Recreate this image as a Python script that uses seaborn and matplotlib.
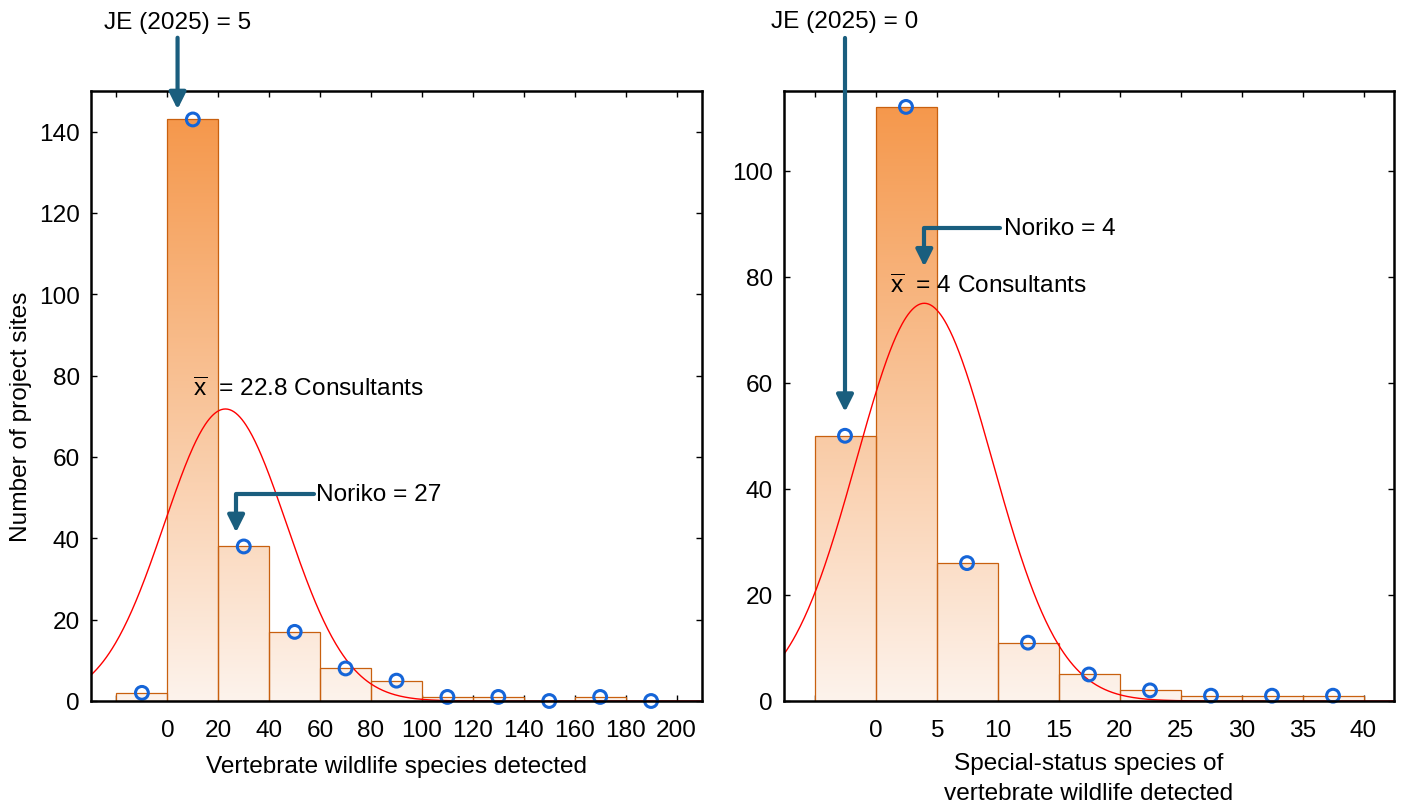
import numpy as np
import pandas as pd
import matplotlib
matplotlib.use("Agg")
import matplotlib.pyplot as plt
import seaborn as sns

# ---------------- data ----------------
left_edges = [-20, 0, 20, 40, 60, 80, 100, 120, 140, 160, 180, 200]
left_counts = [2, 143, 38, 17, 8, 5, 1, 1, 0, 1, 0]
left_mean = 22.8
left_sd = 24.0
left_xticklabels = ["0", "20", "40", "60", "80", "100", "120", "140", "160", "180", "200"]

right_edges = [-5, 0, 5, 10, 15, 20, 25, 30, 35, 40]
right_counts = [50, 112, 26, 11, 5, 2, 1, 1, 1]
right_mean = 4.0
right_sd = 5.56
right_xticklabels = ["0", "5", "10", "15", "20", "25", "30", "35", "40"]

left_je = 5
right_je = 0
left_noriko = 27
right_noriko = 4

# ---------------- style ----------------
sns.set_theme(style="ticks")
plt.rcParams["font.family"] = ["Liberation Sans", "DejaVu Sans"]
plt.rcParams["mathtext.fontset"] = "custom"
plt.rcParams["mathtext.sf"] = "Liberation Sans"
plt.rcParams["mathtext.rm"] = "Liberation Sans"
plt.rcParams["text.color"] = "black"
plt.rcParams["axes.labelcolor"] = "black"

FS = 17.6
ORANGE_TOP = np.array([0xF5, 0x98, 0x4C]) / 255
ORANGE_BOT = np.array([0xFD, 0xF3, 0xEC]) / 255
EDGE = "#C8600F"
BLUE = "#1565D8"
ARROW = "#1A5E7E"
SPINE_W = 1.8

fig = plt.figure(figsize=(14.01, 8.03), dpi=100)
axL = fig.add_axes([91 / 1401, 1 - 702 / 803, 611 / 1401, 610 / 803])
axR = fig.add_axes([784 / 1401, 1 - 702 / 803, 610 / 1401, 610 / 803])


def panel(ax, edges, counts, mean, sd, xlim, ylim, yticks, xticklabels):
    edges_a = np.asarray(edges, float)
    counts_a = np.asarray(counts, float)
    centers = (edges_a[:-1] + edges_a[1:]) / 2
    width = edges_a[1] - edges_a[0]
    df = pd.DataFrame({"x": centers, "w": counts_a})
    sns.histplot(data=df, x="x", weights="w", bins=list(edges), ax=ax, stat="count",
                 fill=True, color=ORANGE_TOP, edgecolor=EDGE, linewidth=0.9,
                 alpha=1, zorder=2)
    # gradient fill clipped to each bar
    n = 256
    grad = np.linspace(0, 1, n)[:, None, None]
    img = ORANGE_BOT[None, None, :] * (1 - grad) + ORANGE_TOP[None, None, :] * grad
    top = counts_a.max()
    for p in list(ax.patches):
        p.set_facecolor("none")
        p.set_zorder(3)
        im = ax.imshow(img, extent=[xlim[0], xlim[1], 0, top], origin="lower",
                       aspect="auto", zorder=2, interpolation="bilinear")
        im.set_clip_path(p)
    # fitted normal curve
    xs = np.linspace(xlim[0], xlim[1], 600)
    ys = counts_a.sum() * width / (sd * np.sqrt(2 * np.pi)) * np.exp(-0.5 * ((xs - mean) / sd) ** 2)
    sns.lineplot(x=xs, y=ys, ax=ax, color="#FF0000", linewidth=1.0, zorder=4)
    # observed counts as open circles
    sns.scatterplot(x=centers, y=counts_a, ax=ax, marker="o", s=85, zorder=6)
    coll = ax.collections[-1]
    coll.set_facecolor("none")
    coll.set_edgecolor(BLUE)
    coll.set_linewidth(2.2)
    coll.set_clip_on(False)

    ax.set_xlim(*xlim)
    ax.set_ylim(*ylim)
    ax.set_xticks(edges_a)
    ax.set_xticklabels([""] + list(xticklabels))
    ax.set_yticks(yticks)
    ax.set_yticklabels([str(v) for v in yticks])
    ax.tick_params(axis="both", direction="in", length=4, width=1.0,
                   top=True, right=True, labelsize=FS, colors="black")
    ax.tick_params(axis="x", pad=13)
    ax.tick_params(axis="y", pad=8)
    for s in ax.spines.values():
        s.set_visible(True)
        s.set_linewidth(SPINE_W)
        s.set_color("black")
        s.set_zorder(7)
    ax.set_ylabel("")
    ax.set_xlabel("")


panel(axL, left_edges, left_counts, left_mean, left_sd, (-30, 210), (0, 150),
      list(range(0, 141, 20)), left_xticklabels)
panel(axR, right_edges, right_counts, right_mean, right_sd, (-7.5, 42.5), (0, 115),
      list(range(0, 101, 20)), right_xticklabels)

axL.set_xlabel("Vertebrate wildlife species detected", fontsize=FS, labelpad=10)
axR.set_xlabel("Special-status species of\nvertebrate wildlife detected", fontsize=FS,
               labelpad=8, linespacing=1.45)
axL.set_ylabel("Number of project sites", fontsize=FS)
axL.yaxis.set_label_coords(-0.096, 0.467)

arrow_kw = dict(arrowstyle="-|>,head_length=0.5,head_width=0.25", color=ARROW, lw=3,
                mutation_scale=20, shrinkA=0, shrinkB=0)
elbow_kw = dict(arrow_kw, connectionstyle="angle,angleA=0,angleB=90,rad=0")

# Left annotations
axL.annotate("", xy=(4, 145.5), xytext=(4, 163.1), arrowprops=arrow_kw,
             annotation_clip=False, zorder=8)
axL.text(4, 167.0, f"JE (2025) = {left_je}", fontsize=FS, ha="center", va="center",
         clip_on=False)
axL.annotate("", xy=(left_noriko, 41.5), xytext=(57.4, 50.8), arrowprops=elbow_kw,
             annotation_clip=False, zorder=8)
axL.text(58.2, 50.8, f"Noriko = {left_noriko}", fontsize=FS, ha="left", va="center", zorder=8)
axL.text(10.2, 76.9, r"$\overline{\mathsf{x}}$  = " + f"{left_mean:g} Consultants",
         fontsize=FS, ha="left", va="center", zorder=8)

# Right annotations
axR.annotate("", xy=(-2.5, 54.5), xytext=(-2.5, 125), arrowprops=arrow_kw,
             annotation_clip=False, zorder=8)
axR.text(-2.5, 128.2, f"JE (2025) = {right_je}", fontsize=FS, ha="center", va="center",
         clip_on=False)
axR.annotate("", xy=(right_noriko, 81.9), xytext=(10.2, 89.2), arrowprops=elbow_kw,
             annotation_clip=False, zorder=8)
axR.text(10.5, 89.2, f"Noriko = {right_noriko}", fontsize=FS, ha="left", va="center", zorder=8)
axR.text(1.15, 78.3, r"$\overline{\mathsf{x}}$  = " + f"{right_mean:g} Consultants",
         fontsize=FS, ha="left", va="center", zorder=8)

fig.savefig("out.png", dpi=100)
